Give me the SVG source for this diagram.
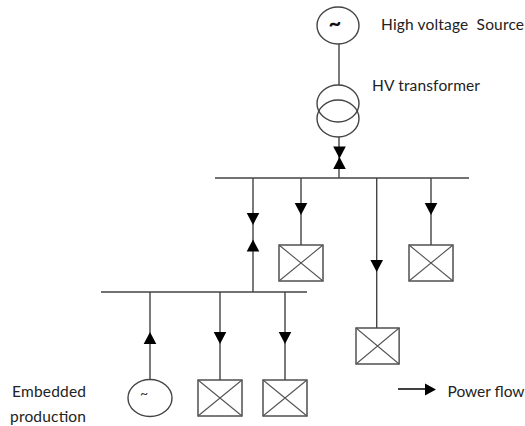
<svg xmlns="http://www.w3.org/2000/svg" width="525" height="426" viewBox="0 0 525 426">
<style>
.l{stroke:#444;stroke-width:1.4;fill:none}
.s{stroke:#444;stroke-width:1.4;fill:none}
.x{stroke:#555;stroke-width:1.1;fill:none}
.a{fill:#000;stroke:none}
text{font-family:Lato,"Open Sans","Liberation Sans",sans-serif;font-size:15.5px;fill:#222}
</style>
<rect width="525" height="426" fill="#fff"/>
<defs>
<g id="load"><rect x="0" y="0" width="44" height="36" class="s"/><path d="M0 0L44 36M44 0L0 36" class="x"/></g>
<path id="dn" d="M-6.300 0H6.300L0 12Z" class="a"/>
<path id="up" d="M-6.300 0H6.300L0 -12Z" class="a"/>
</defs>
<g id="connectors">
<path class="l" d="M339 44V85M339 137V178M215 178H469M253 178V292M301 178V245M376.700 178V328M431 178V245M101 292H307M150 292V379M220 292V380M285 292V380"/>
<use href="#dn" x="339.500" y="146.500"/>
<use href="#up" x="339.500" y="169"/>
<use href="#dn" x="253" y="213"/>
<use href="#up" x="253" y="251.500"/>
<use href="#dn" x="301" y="203"/>
<use href="#dn" x="376.700" y="260"/>
<use href="#dn" x="431" y="203"/>
<use href="#up" x="150" y="344"/>
<use href="#dn" x="220" y="332"/>
<use href="#dn" x="285" y="332"/>
<path class="l" style="stroke:#111;stroke-width:1.600" d="M398 389H426"/>
<path class="a" d="M425 383.500L436 389.500L425 395.500Z"/>
</g>
<g id="source">
<ellipse cx="338" cy="25.500" rx="21" ry="18.500" class="s"/>
<text x="335" y="31" text-anchor="middle" style="font-size:22px;font-weight:700;fill:#111">~</text>
<text x="381" y="30" textLength="143" lengthAdjust="spacing" xml:space="preserve">High voltage  Source</text>
</g>
<g id="transformer">
<ellipse cx="338" cy="103.500" rx="21" ry="18.500" class="s"/>
<ellipse cx="338" cy="118.500" rx="21" ry="18.500" class="s"/>
<text x="372" y="91" textLength="108" lengthAdjust="spacing">HV transformer</text>
</g>
<g id="load1"><use href="#load" x="279" y="245"/></g>
<g id="load2"><use href="#load" x="409" y="245"/></g>
<g id="load3"><use href="#load" x="356" y="328" transform="translate(356 328) scale(.98 1) translate(-356 -328)"/></g>
<g id="load4"><use href="#load" x="198" y="380"/></g>
<g id="load5"><use href="#load" x="263" y="380"/></g>
<g id="embedded">
<ellipse cx="150" cy="398" rx="22" ry="18.500" class="s"/>
<text x="144" y="398" text-anchor="middle" style="font-size:14px;fill:#333">~</text>
<text x="12" y="397" textLength="74" lengthAdjust="spacing">Embedded</text>
<text x="10" y="421.500" textLength="76" lengthAdjust="spacing">production</text>
</g>
<g id="legend"><text x="447.500" y="396.500" textLength="77" lengthAdjust="spacing">Power flow</text></g>
</svg>
